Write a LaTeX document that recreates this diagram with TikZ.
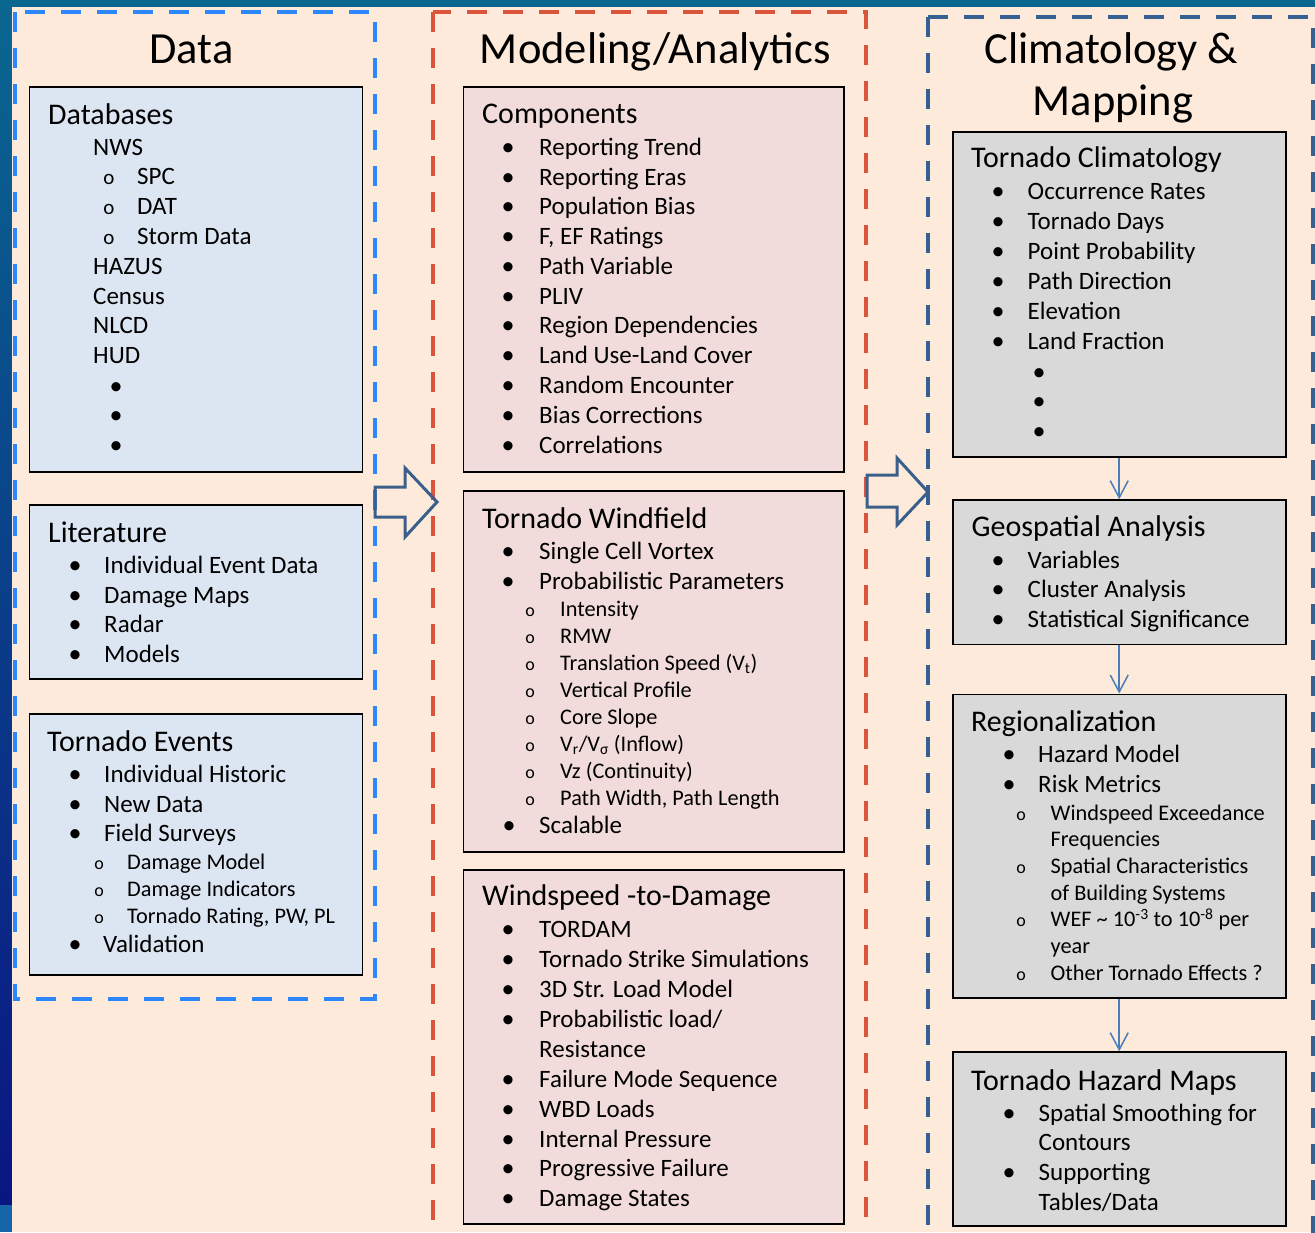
\documentclass[tikz,border=0pt]{standalone}
\usepackage{fontspec}
\setmainfont{Carlito}
\usetikzlibrary{arrows.meta,fit}
\definecolor{peach}{HTML}{FDEADA}
\definecolor{dataFill}{HTML}{DCE6F2}
\definecolor{modFill}{HTML}{F2DCDB}
\definecolor{climFill}{HTML}{D9D9D9}
\definecolor{dashBlue}{HTML}{2E86FD}
\definecolor{dashRed}{HTML}{D9553B}
\definecolor{dashNavy}{HTML}{376092}
\definecolor{blockArrow}{HTML}{3A5F8B}
\definecolor{flowArrow}{HTML}{4A7EBB}
\definecolor{bgTeal}{HTML}{0A6790}
\definecolor{bgMid}{HTML}{0A4A8C}
\definecolor{bgNavy}{HTML}{0A1582}
\definecolor{bgLight}{HTML}{1565A8}
\newcounter{ln}
\newcommand\mkname{\stepcounter{ln}\edef\lname{t\arabic{ln}}\edef\bname{b\arabic{ln}}}
\newcommand\HD[3]{\mkname\node[hd] (\lname) at (#1,#2) {#3};}
\newcommand\PL[3]{\mkname\node[itm] (\lname) at (#1,#2) {#3};}
\newcommand\PS[3]{\mkname\node[sub] (\lname) at (#1,#2) {#3};}
\newcommand\BU[4]{\mkname\node[bul] (\bname) at (#1,#3) {\textbullet};\node[itm] (\lname) at (#2,#3) {#4};}
\newcommand\BO[3]{\mkname\node[bul] (\bname) at (#1,#2) {\textbullet};}
\newcommand\SB[4]{\mkname\node[sbul] (\bname) at (#1,#3) {o};\node[sub] (\lname) at (#2,#3) {#4};}
\newcommand\SBB[4]{\mkname\node[sbulb] (\bname) at (#1,#3) {o};\node[itm] (\lname) at (#2,#3) {#4};}
\begin{document}
\begin{tikzpicture}[x=1pt,y=-1pt,
  ttl/.style={anchor=base,inner sep=0pt,font=\fontsize{44.5}{53}\selectfont},
  hd/.style={anchor=base west,inner sep=0pt,font=\fontsize{30}{36}\selectfont},
  itm/.style={anchor=base west,inner sep=0pt,font=\fontsize{25}{30}\selectfont},
  sub/.style={anchor=base west,inner sep=0pt,font=\fontsize{22.3}{27}\selectfont},
  bul/.style={anchor=base,inner sep=0pt,font=\fontsize{26}{30}\selectfont},
  sbul/.style={anchor=base,inner sep=0pt,font=\fontsize{18}{20}\selectfont},
  sbulb/.style={anchor=base,inner sep=0pt,font=\fontsize{21}{24}\selectfont},
  dbox/.style={draw=black,line width=1.6pt,fill=dataFill,inner sep=0pt},
  mbox/.style={draw=black,line width=1.6pt,fill=modFill,inner sep=0pt},
  cbox/.style={draw=black,line width=1.6pt,fill=climFill,inner sep=0pt},
  coldash/.style={line width=4pt,dash pattern=on 20pt off 16pt},
  blockarrow/.style={draw=blockArrow,line width=3pt,line join=miter},
  flow/.style={draw=flowArrow,line width=1.5pt,-{Straight Barb[length=17pt,width=18pt,line width=1.5pt]}}
]
\useasboundingbox (0,0) rectangle (1315,1232);
\clip (0,0) rectangle (1315,1232);
% background
\shade[top color=bgTeal, middle color=bgMid, bottom color=bgNavy] (0,0) rectangle (12,1205);
\fill[bgLight] (0,1205) rectangle (12,1232);
\fill[bgTeal] (0,0) rectangle (1315,7);
\fill[peach] (12,7) rectangle (1315,1232);
% columns
\draw[coldash,dashBlue] (15,12) rectangle (375,999);
\draw[coldash,dashRed] (433,12) rectangle (866,1262);
\draw[coldash,dashNavy] (928,17) rectangle (1313,1262);
% titles
\node[ttl] (tData) at (191.5,63) {Data};
\node[ttl] (tModel) at (655.5,63) {Modeling/Analytics};
\node[ttl] (tClim) at (1111.5,63) {Climatology \&};
\node[ttl] (tMap) at (1113,115) {Mapping};
% boxes
\node[dbox,fit={(29.3,86.7) (362.3,472)}] (db) {};
\node[dbox,fit={(29.3,505) (362.3,679)}] (lit) {};
\node[dbox,fit={(29.3,714) (362.3,975)}] (ev) {};
\node[mbox,fit={(463.3,86.7) (844,472)}] (comp) {};
\node[mbox,fit={(463.3,491) (844,852)}] (wind) {};
\node[mbox,fit={(463.3,870) (844,1224)}] (dmg) {};
\node[cbox,fit={(952.7,131.7) (1285.7,456.7)}] (clim) {};
\node[cbox,fit={(952.7,500) (1285.7,644.3)}] (geo) {};
\node[cbox,fit={(952.7,694.3) (1285.7,998)}] (reg) {};
\node[cbox,fit={(952.7,1052) (1285.7,1226)}] (haz) {};
% block arrows
\draw[blockarrow] (375,487) -- (405,487) -- (405,468) -- (437,502) -- (405,537) -- (405,517) -- (375,517) -- cycle;
\draw[blockarrow] (867,475) -- (897,475) -- (897,458) -- (928,492) -- (897,525) -- (897,507) -- (867,507) -- cycle;
% flow arrows
\draw[flow] (clim.south) -- (geo.north);
\draw[flow] (geo.south) -- (reg.north);
\draw[flow] (reg.south) -- (haz.north);
% Databases
\HD{48}{124}{Databases}
\PL{93}{155}{NWS}
\SBB{109}{137}{184.8}{SPC}
\SBB{109}{137}{214.6}{DAT}
\SBB{109}{137}{244.4}{Storm Data}
\PL{93}{274.2}{HAZUS}
\PL{93}{304}{Census}
\PL{93}{333.8}{NLCD}
\PL{93}{363.6}{HUD}
\BO{116}{394}{}
\BO{116}{423.5}{}
\BO{116}{453.5}{}
% Literature
\HD{48}{542}{Literature}
\BU{75}{104}{573}{Individual Event Data}
\BU{75}{104}{603}{Damage Maps}
\BU{75}{104}{632}{Radar}
\BU{75}{104}{662}{Models}
% Tornado Events
\HD{47}{751}{Tornado Events}
\BU{75}{104}{782}{Individual Historic}
\BU{75}{104}{812}{New Data}
\BU{75}{104}{841}{Field Surveys}
\SB{99}{127}{869}{Damage Model}
\SB{99}{127}{896}{Damage Indicators}
\SB{99}{127}{923}{Tornado Rating, PW, PL}
\BU{75}{103}{952}{Validation}
% Components
\HD{482}{123.5}{Components}
\BU{508}{539}{155}{Reporting Trend}
\BU{508}{539}{185}{Reporting Eras}
\BU{508}{539}{214.6}{Population Bias}
\BU{508}{539}{244.4}{F, EF Ratings}
\BU{508}{539}{274.2}{Path Variable}
\BU{508}{539}{304}{PLIV}
\BU{508}{539}{333.8}{Region Dependencies}
\BU{508}{539}{363.6}{Land Use-Land Cover}
\BU{508}{539}{393.4}{Random Encounter}
\BU{508}{539}{423.2}{Bias Corrections}
\BU{508}{539}{453}{Correlations}
% Tornado Windfield
\HD{482}{528}{Tornado Windfield}
\BU{508}{539}{559}{Single Cell Vortex}
\BU{508}{539}{589}{Probabilistic Parameters}
\SB{530}{560}{616.5}{Intensity}
\SB{530}{560}{643.3}{RMW}
\SB{530}{560}{670.2}{Translation Speed (V\textsubscript{t})}
\SB{530}{560}{697}{Vertical Profile}
\SB{530}{560}{724}{Core Slope}
\SB{530}{560}{751}{V\textsubscript{r}/V\textsubscript{σ} (Inflow)}
\SB{530}{560}{778}{Vz (Continuity)}
\SB{530}{560}{805}{Path Width, Path Length}
\BU{509}{539}{833.5}{Scalable}
% Windspeed-to-Damage
\HD{482}{905}{Windspeed -to-Damage}
\BU{508}{539}{937}{TORDAM}
\BU{508}{539}{967}{Tornado Strike Simulations}
\BU{508}{539}{997}{3D Str. Load Model}
\BU{508}{539}{1027}{Probabilistic load/}
\PL{539}{1057}{Resistance}
\BU{508}{539}{1087}{Failure Mode Sequence}
\BU{508}{539}{1117}{WBD Loads}
\BU{508}{539}{1147}{Internal Pressure}
\BU{508}{539}{1176}{Progressive Failure}
\BU{508}{539}{1206}{Damage States}
% Tornado Climatology
\HD{971}{167}{Tornado Climatology}
\BU{998}{1027.5}{199}{Occurrence Rates}
\BU{998}{1027.5}{229}{Tornado Days}
\BU{998}{1027.5}{259}{Point Probability}
\BU{998}{1027.5}{289}{Path Direction}
\BU{998}{1027.5}{319}{Elevation}
\BU{998}{1027.5}{349}{Land Fraction}
\BO{1039}{380}{}
\BO{1039}{409}{}
\BO{1039}{439}{}
% Geospatial Analysis
\HD{971.5}{536.7}{Geospatial Analysis}
\BU{998}{1027.5}{568}{Variables}
\BU{998}{1027.5}{597.5}{Cluster Analysis}
\BU{998}{1027.5}{627.5}{Statistical Significance}
% Regionalization
\HD{971}{731}{Regionalization}
\BU{1009}{1038}{762}{Hazard Model}
\BU{1009}{1038}{792}{Risk Metrics}
\SB{1021}{1050.5}{820}{Windspeed Exceedance}
\PS{1050.5}{846.7}{Frequencies}
\SB{1021}{1050.5}{873.3}{Spatial Characteristics}
\PS{1050.5}{900}{of Building Systems}
\SB{1021}{1050.5}{926.7}{WEF \textasciitilde{} 10\textsuperscript{-3} to 10\textsuperscript{-8} per}
\PS{1050.5}{953.3}{year}
\SB{1021}{1050.5}{980}{Other Tornado Effects ?}
% Tornado Hazard Maps
\HD{971}{1090}{Tornado Hazard Maps}
\BU{1009}{1038.5}{1121}{Spatial Smoothing for}
\PL{1038.5}{1150}{Contours}
\BU{1009}{1038.5}{1180}{Supporting}
\PL{1038.5}{1210}{Tables/Data}
\end{tikzpicture}
\end{document}
